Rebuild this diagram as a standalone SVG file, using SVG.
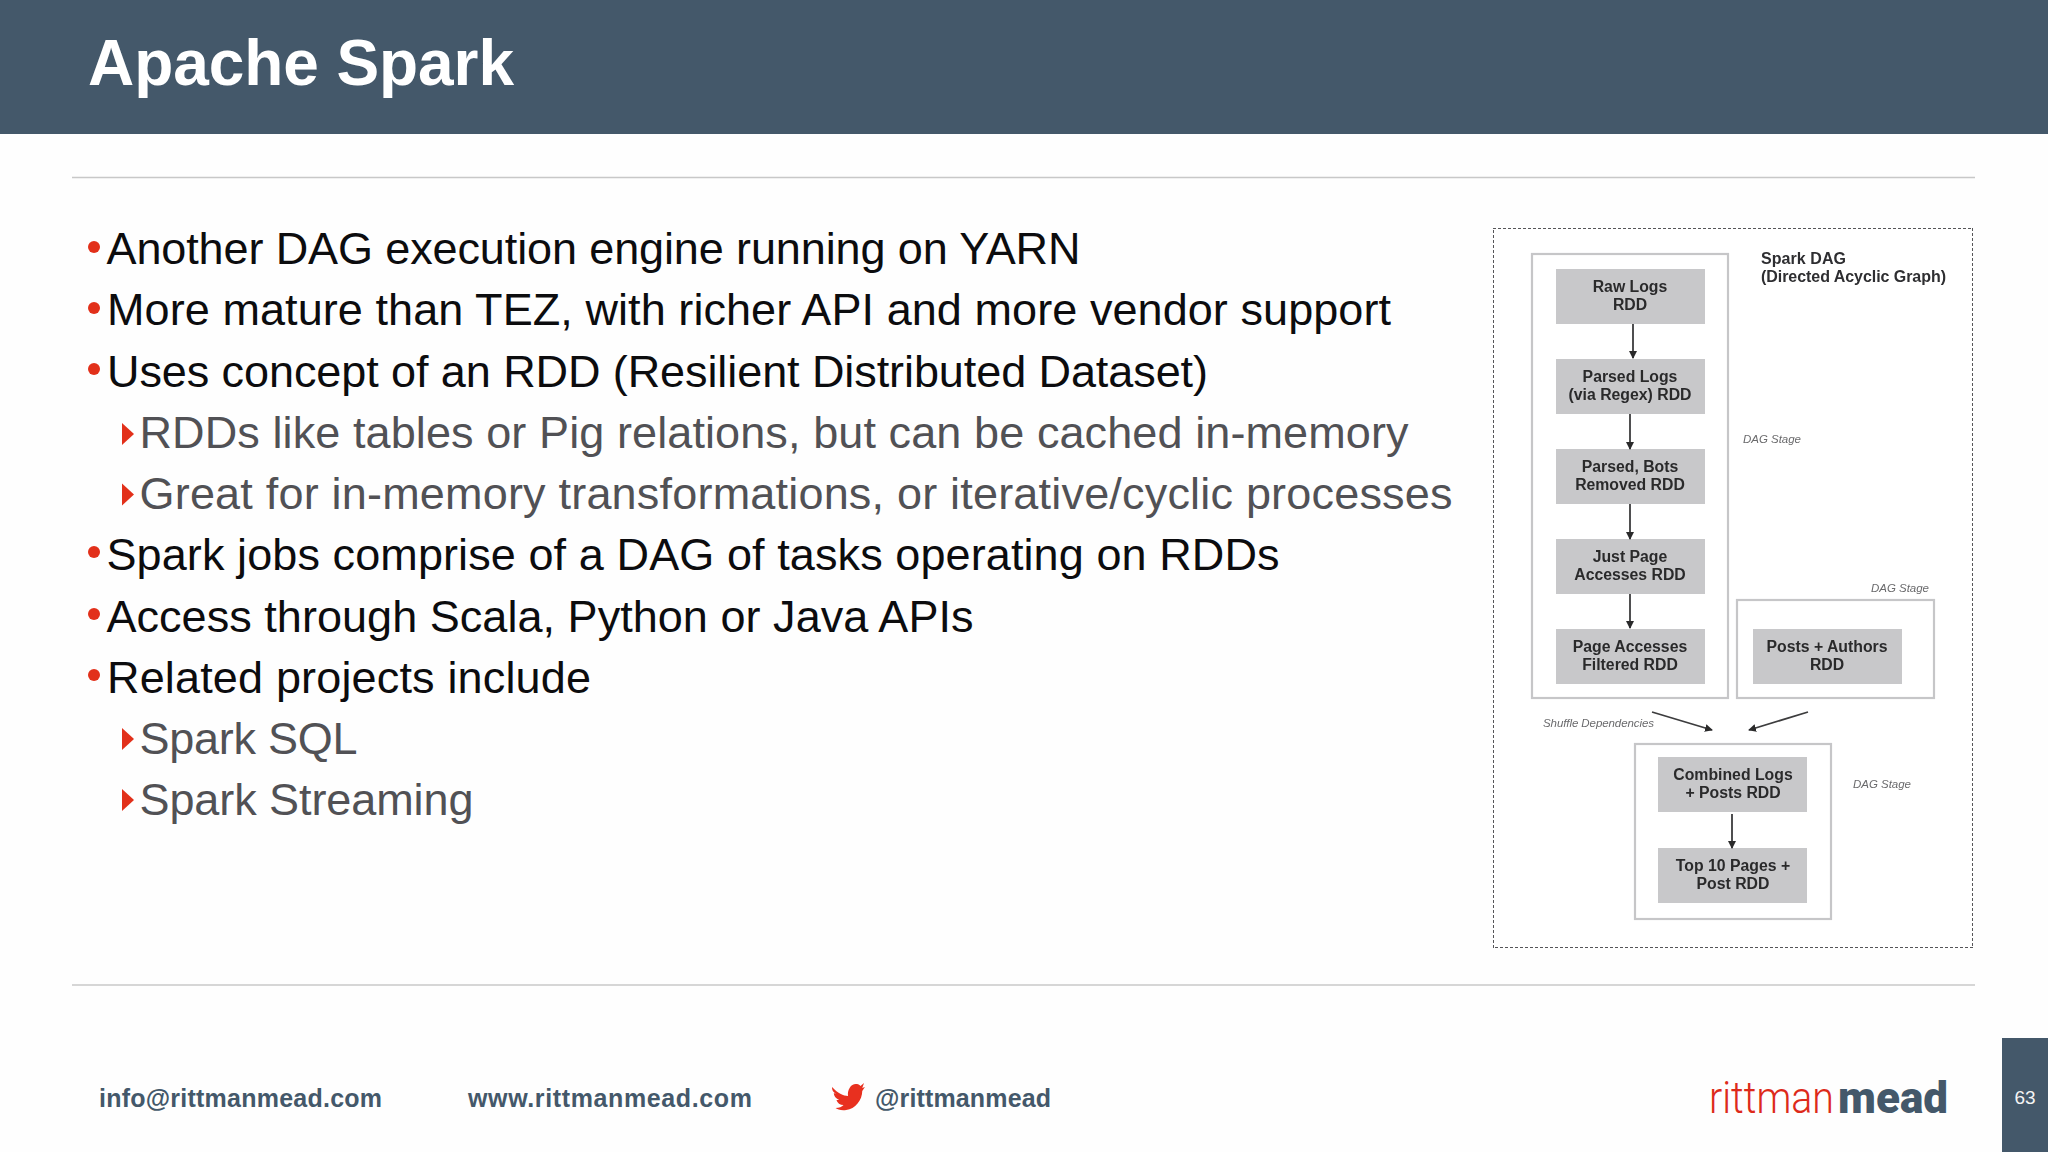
<svg xmlns="http://www.w3.org/2000/svg" width="2048" height="1152" viewBox="0 0 2048 1152">
<style>
text{font-family:"Liberation Sans",Arial,sans-serif}
.l1{font-size:45px;fill:#0c0c0e}
.l2{font-size:45px;fill:#515155}
.foot{font-size:25px;font-weight:700;fill:#44586a}
.rule{stroke:#c8c8c8;stroke-width:1.5}
.dot{fill:#e2301a}
.stage{fill:#fff;stroke:#c6c6c8;stroke-width:2.2}
.node rect{fill:#c8c8ca}
.node text{font-size:15.8px;font-weight:700;fill:#2a2a2c;text-anchor:middle}
.cap{font-size:16px;font-weight:700;fill:#2e2e30}
.note{font-size:11.5px;font-style:italic;fill:#6a6a6c}
.arrow{stroke:#3c3c3e;stroke-width:1.8;fill:none;marker-end:url(#ah)}
</style>
<defs>
<marker id="ah" viewBox="0 0 8 8" refX="7" refY="4" markerWidth="8" markerHeight="8" markerUnits="userSpaceOnUse" orient="auto"><path d="M0 0L8 4L0 8Z" fill="#2a2a2c"/></marker>
<filter id="soft" x="0" y="0" width="1" height="1"><feGaussianBlur stdDeviation="0.55"/></filter>
</defs>
<rect width="2048" height="1152" fill="#fefefe"/>
<g id="header">
<rect width="2048" height="134" fill="#44586a"/>
<text x="88" y="85" font-size="64" font-weight="700" fill="#fff" textLength="426">Apache Spark</text>
</g>
<line class="rule" x1="72" y1="177.500" x2="1975" y2="177.500"/>
<line class="rule" x1="72" y1="985" x2="1975" y2="985"/>
<g id="bullets">
<circle class="dot" cx="94" cy="247" r="6"/><text class="l1" x="106.500" y="264" textLength="974">Another DAG execution engine running on YARN</text>
<circle class="dot" cx="94" cy="308" r="6"/><text class="l1" x="107" y="325" textLength="1284">More mature than TEZ, with richer API and more vendor support</text>
<circle class="dot" cx="94" cy="369" r="6"/><text class="l1" x="107" y="387" textLength="1101">Uses concept of an RDD (Resilient Distributed Dataset)</text>
<path class="dot" d="M122 423L134 434L122 445Z"/><text class="l2" x="139.500" y="448" textLength="1269">RDDs like tables or Pig relations, but can be cached in-memory</text>
<path class="dot" d="M122 483.500L134 494.500L122 505.500Z"/><text class="l2" x="139.500" y="509" textLength="1313">Great for in-memory transformations, or iterative/cyclic processes</text>
<circle class="dot" cx="94" cy="552" r="6"/><text class="l1" x="106.500" y="570" textLength="1173">Spark jobs comprise of a DAG of tasks operating on RDDs</text>
<circle class="dot" cx="94" cy="614" r="6"/><text class="l1" x="106.500" y="631.500" textLength="867">Access through Scala, Python or Java APIs</text>
<circle class="dot" cx="94" cy="675" r="6"/><text class="l1" x="107" y="692.500" textLength="484">Related projects include</text>
<path class="dot" d="M122 728L134 739L122 750Z"/><text class="l2" x="139.500" y="753.500" textLength="218">Spark SQL</text>
<path class="dot" d="M122 789L134 800L122 811Z"/><text class="l2" x="139.500" y="814.500" textLength="334">Spark Streaming</text>
</g>
<g id="dag" filter="url(#soft)">
<g id="dag-frame"><rect x="1493" y="228" width="480" height="720" fill="#fff" stroke="#555558" stroke-width="2" stroke-dasharray="3 2"/></g>
<g id="stage-1"><rect class="stage" x="1532" y="254" width="196" height="444"/></g>
<g id="stage-2"><rect class="stage" x="1737" y="600" width="197" height="98"/></g>
<g id="stage-3"><rect class="stage" x="1635" y="744" width="196" height="175"/></g>
<g id="n-raw" class="node"><rect x="1556" y="269" width="149" height="55"/><text x="1630" y="292">Raw Logs</text><text x="1630" y="310">RDD</text></g>
<g id="n-parsed" class="node"><rect x="1556" y="359" width="149" height="55"/><text x="1630" y="382">Parsed Logs</text><text x="1630" y="400">(via Regex) RDD</text></g>
<g id="n-bots" class="node"><rect x="1556" y="449" width="149" height="55"/><text x="1630" y="472">Parsed, Bots</text><text x="1630" y="490">Removed RDD</text></g>
<g id="n-page" class="node"><rect x="1556" y="539" width="149" height="55"/><text x="1630" y="562">Just Page</text><text x="1630" y="580">Accesses RDD</text></g>
<g id="n-filtered" class="node"><rect x="1556" y="629" width="149" height="55"/><text x="1630" y="652">Page Accesses</text><text x="1630" y="670">Filtered RDD</text></g>
<g id="n-posts" class="node"><rect x="1753" y="629" width="149" height="55"/><text x="1827" y="652">Posts + Authors</text><text x="1827" y="670">RDD</text></g>
<g id="n-combined" class="node"><rect x="1658" y="757" width="149" height="55"/><text x="1733" y="780">Combined Logs</text><text x="1733" y="798">+ Posts RDD</text></g>
<g id="n-top" class="node"><rect x="1658" y="848" width="149" height="55"/><text x="1733" y="871">Top 10 Pages +</text><text x="1733" y="889">Post RDD</text></g>
<g id="connectors">
<line class="arrow" x1="1633" y1="324" x2="1633" y2="358"/>
<line class="arrow" x1="1630" y1="414" x2="1630" y2="449"/>
<line class="arrow" x1="1630" y1="504" x2="1630" y2="539"/>
<line class="arrow" x1="1630" y1="594" x2="1630" y2="628"/>
<line class="arrow" x1="1732" y1="814" x2="1732" y2="848"/>
<line class="arrow" x1="1652" y1="712" x2="1712" y2="730"/>
<line class="arrow" x1="1808" y1="712" x2="1749" y2="730"/>
</g>
<g id="labels">
<text class="cap" x="1761" y="264" textLength="85">Spark DAG</text>
<text class="cap" x="1761" y="282" textLength="185">(Directed Acyclic Graph)</text>
<text class="note" x="1743" y="443" textLength="58">DAG Stage</text>
<text class="note" x="1871" y="592" textLength="58">DAG Stage</text>
<text class="note" x="1853" y="788" textLength="58">DAG Stage</text>
<text class="note" x="1543" y="727" textLength="111">Shuffle Dependencies</text>
</g>
</g>
<g id="footer">
<text class="foot" x="99" y="1107" textLength="283">info@rittmanmead.com</text>
<text class="foot" x="468" y="1107" textLength="284">www.rittmanmead.com</text>
<text class="foot" x="875" y="1107" textLength="176">@rittmanmead</text>
<path id="bird" transform="translate(832 -1) scale(0.89 1) translate(-832 0)" d="M832 1088C838 1094 845 1097 850 1097C849 1090 854 1084 860 1085C862 1085 863 1086 864 1087L868 1084L866 1089L869 1088L866 1092C866 1101 858 1110 848 1111C842 1112 838 1110 836 1109C840 1109 843 1108 845 1106C841 1106 838 1104 837 1101L840 1101C836 1099 834 1097 834 1094L837 1095C833 1093 832 1091 832 1088Z" fill="#e8301f"/>
<text x="1709" y="1113" font-size="44" font-weight="300" fill="#dd2a1a" textLength="125" lengthAdjust="spacingAndGlyphs" style="font-family:'Roboto','Liberation Sans',sans-serif">rittman</text>
<text x="1838" y="1113" font-size="44" font-weight="900" fill="#44586a" textLength="110" lengthAdjust="spacingAndGlyphs" style="font-family:'Roboto','Liberation Sans',sans-serif">mead</text>
<rect x="2002" y="1038" width="46" height="114" fill="#44586a"/>
<text x="2025" y="1104" font-size="19" fill="#f4f4f4" text-anchor="middle">63</text>
</g>
</svg>
